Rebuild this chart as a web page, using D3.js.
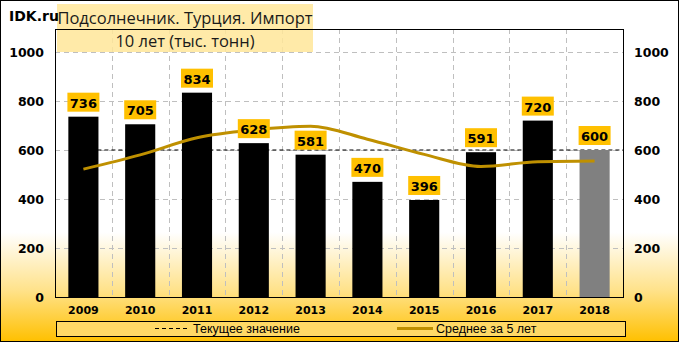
<!DOCTYPE html>
<html><head><meta charset="utf-8">
<script src="https://cdn.jsdelivr.net/npm/d3@7"></script>
<style>body{margin:0;background:#fff}svg{display:block}</style>
</head><body>
<svg id="c" width="679" height="342"></svg>
<script>
const years = ["2009","2010","2011","2012","2013","2014","2015","2016","2017","2018"];
const values = [736,705,834,628,581,470,396,591,720,600];
const avg5 = [522,580,650,682,697,644,582,533,552,555];
const currentValue = 600;
const yTicks = [0,200,400,600,800,1000];
const titleLines = ["Подсолнечник. Турция. Импорт","10 лет (тыс. тонн)"];
const legendLabels = ["Текущее значение","Среднее за 5 лет"];

const W=679,H=342;
const svg=d3.select("#c");
const defs=svg.append("defs");
const g=defs.append("linearGradient").attr("id","bg").attr("x1",0).attr("y1",0).attr("x2",0).attr("y2",1);
g.append("stop").attr("offset","0.68").attr("stop-color","#ffffff");
g.append("stop").attr("offset","0.85").attr("stop-color","#ffe28a");
g.append("stop").attr("offset","1").attr("stop-color","#ffc000");
svg.append("rect").attr("x",0.5).attr("y",0.5).attr("width",W-1).attr("height",H-1).attr("fill","url(#bg)").attr("stroke","#000");

const pl=55, pr=623, pt=29, pb=297;
const x=d3.scaleBand().domain(years).range([pl,pr]).paddingInner(0.47).paddingOuter(0.235);
const y=d3.scaleLinear().domain([0,1000]).range([pb,52]);

// grid
const grid=svg.append("g");
yTicks.filter(d=>d>0).forEach(t=>{
  grid.append("line").attr("x1",pl).attr("x2",pr).attr("y1",Math.round(y(t))+0.5).attr("y2",Math.round(y(t))+0.5)
    .attr("stroke","#bfbfbf").attr("stroke-dasharray","5,4");
});
const step=(pr-pl)/years.length;
for(let i=1;i<years.length;i++){
  const xx=Math.round(pl+i*step)+0.5;
  grid.append("line").attr("x1",xx).attr("x2",xx).attr("y1",pt).attr("y2",pb).attr("stroke","#bfbfbf").attr("stroke-dasharray","5,4");
}

// title boxes
const tf='"Open Sans","Liberation Sans",sans-serif';
svg.append("rect").attr("x",57).attr("y",4).attr("width",256).attr("height",24).attr("fill","#ffe699").attr("opacity",0.85);
svg.append("rect").attr("x",57).attr("y",28).attr("width",256).attr("height",24).attr("fill","#ffe699").attr("opacity",0.85);
svg.append("text").attr("x",185).attr("y",24).attr("text-anchor","middle").attr("font-family",tf).attr("font-size",16.5).attr("fill","#1a1a1a").text(titleLines[0]);
svg.append("text").attr("x",185).attr("y",47).attr("text-anchor","middle").attr("font-family",tf).attr("font-size",16.5).attr("fill","#1a1a1a").text(titleLines[1]);
svg.append("text").attr("x",9).attr("y",21).attr("font-family",'"DejaVu Sans",sans-serif').attr("font-weight","bold").attr("font-size",14).attr("fill","#000").text("IDK.ru");

// plot border
svg.append("rect").attr("x",pl+0.5).attr("y",pt+0.5).attr("width",pr-pl).attr("height",pb-pt).attr("fill","none").attr("stroke","#000");

// current value dashed line
svg.append("line").attr("x1",x(years[0])+x.bandwidth()/2).attr("x2",pr).attr("y1",y(currentValue)).attr("y2",y(currentValue))
  .attr("stroke","#000").attr("stroke-dasharray","4,3").attr("stroke-width",1.2);

// bars
svg.append("g").selectAll("rect").data(values).join("rect")
  .attr("x",(d,i)=>x(years[i])).attr("width",x.bandwidth())
  .attr("y",d=>y(d)).attr("height",d=>pb-y(d))
  .attr("fill",(d,i)=>i===values.length-1?"#808080":"#000");

// average line
const line=d3.line().x((d,i)=>x(years[i])+x.bandwidth()/2).y(d=>y(d)).curve(d3.curveMonotoneX);
svg.append("path").attr("d",line(avg5)).attr("fill","none").attr("stroke","#bf9000").attr("stroke-width",3);

// value labels
const lf='"DejaVu Sans",sans-serif';
const lab=svg.append("g");
values.forEach((v,i)=>{
  const cx=x(years[i])+x.bandwidth()/2, top=y(v);
  lab.append("rect").attr("x",cx-16).attr("y",top-24).attr("width",32).attr("height",19).attr("fill","#ffc000");
  lab.append("text").attr("x",cx).attr("y",top-9).attr("text-anchor","middle").attr("font-family",lf).attr("font-weight","bold").attr("font-size",13).attr("fill","#000").text(v);
});

// axes labels
const af='"DejaVu Sans",sans-serif';
yTicks.forEach(t=>{
  svg.append("text").attr("x",44).attr("y",y(t)+5).attr("text-anchor","end").attr("font-family",af).attr("font-weight","bold").attr("font-size",12.5).text(t);
  svg.append("text").attr("x",634).attr("y",y(t)+5).attr("text-anchor","start").attr("font-family",af).attr("font-weight","bold").attr("font-size",12.5).text(t);
});
years.forEach(yr=>{
  svg.append("text").attr("x",x(yr)+x.bandwidth()/2).attr("y",314).attr("text-anchor","middle").attr("font-family",af).attr("font-weight","bold").attr("font-size",11).text(yr);
});

// legend
const legf='"Liberation Sans",sans-serif';
svg.append("rect").attr("x",56.5).attr("y",321.5).attr("width",569).attr("height",15).attr("fill","#ffd966").attr("stroke","#000");
svg.append("line").attr("x1",155).attr("x2",187).attr("y1",328.5).attr("y2",328.5).attr("stroke","#000").attr("stroke-dasharray","4,3");
svg.append("text").attr("x",193).attr("y",333).attr("font-family",legf).attr("font-size",12.5).text(legendLabels[0]);
svg.append("line").attr("x1",397).attr("x2",433).attr("y1",328.5).attr("y2",328.5).attr("stroke","#bf9000").attr("stroke-width",3);
svg.append("text").attr("x",436).attr("y",333).attr("font-family",legf).attr("font-size",12.5).text(legendLabels[1]);
</script>
</body></html>
